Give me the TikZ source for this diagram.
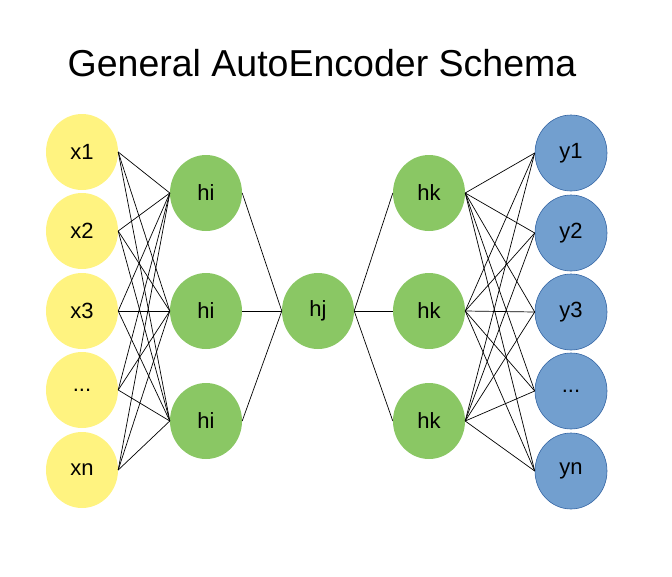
\documentclass[tikz,border=0pt]{standalone}
\usepackage{fontspec}
\setmainfont{Liberation Sans}
\usepackage{tikz}
\usetikzlibrary{shapes.geometric}
\definecolor{inyellow}{RGB}{255,243,128}
\definecolor{hidgreen}{RGB}{138,199,100}
\definecolor{outblue}{RGB}{114,159,207}
\definecolor{outborder}{RGB}{52,101,164}
\tikzset{
  unit/.style={ellipse, inner sep=0pt, minimum width=72pt, minimum height=76pt, font=\fontsize{22}{25}\selectfont},
  inunit/.style={unit, fill=inyellow},
  hidunit/.style={unit, fill=hidgreen},
  outunit/.style={unit, fill=outblue, draw=outborder, line width=0.6pt},
  wire/.style={black, line width=0.7pt}
}

\begin{document}
\begin{tikzpicture}[x=1pt, y=-1pt]
  \useasboundingbox (0,0) rectangle (672,576);
  \node[font=\fontsize{37.5}{42}\selectfont] (title) at (322,63) {General AutoEncoder Schema};

  % input layer
  \node[inunit] (x1) at (82,152) {x1};
  \node[inunit] (x2) at (82,231) {x2};
  \node[inunit] (x3) at (82,311) {x3};
  \node[inunit] (x4) at (82,390) {...};
  \node[inunit] (x5) at (82,470) {xn};

  % encoder hidden
  \node[hidunit] (h1) at (206,193) {hi};
  \node[hidunit] (h2) at (206,311) {hi};
  \node[hidunit] (h3) at (206,421) {hi};

  % code
  \node[hidunit] (c) at (318,311) {hj};

  % decoder hidden
  \node[hidunit] (k1) at (429,193) {hk};
  \node[hidunit] (k2) at (429,311) {hk};
  \node[hidunit] (k3) at (429,421) {hk};

  % output layer
  \node[outunit] (y1) at (571,153) {y1};
  \node[outunit] (y2) at (571,233) {y2};
  \node[outunit] (y3) at (571,312) {y3};
  \node[outunit] (y4) at (571,391) {...};
  \node[outunit] (y5) at (571,471) {yn};

  \foreach \i in {1,...,5}
    \foreach \j in {1,2,3}
      \draw[wire] (x\i.east) -- (h\j.west);
  \foreach \j in {1,2,3} {
    \draw[wire] (h\j.east) -- (c.west);
    \draw[wire] (c.east) -- (k\j.west);
  }
  \foreach \j in {1,2,3}
    \foreach \i in {1,...,5}
      \draw[wire] (k\j.east) -- (y\i.west);
\end{tikzpicture}
\end{document}
